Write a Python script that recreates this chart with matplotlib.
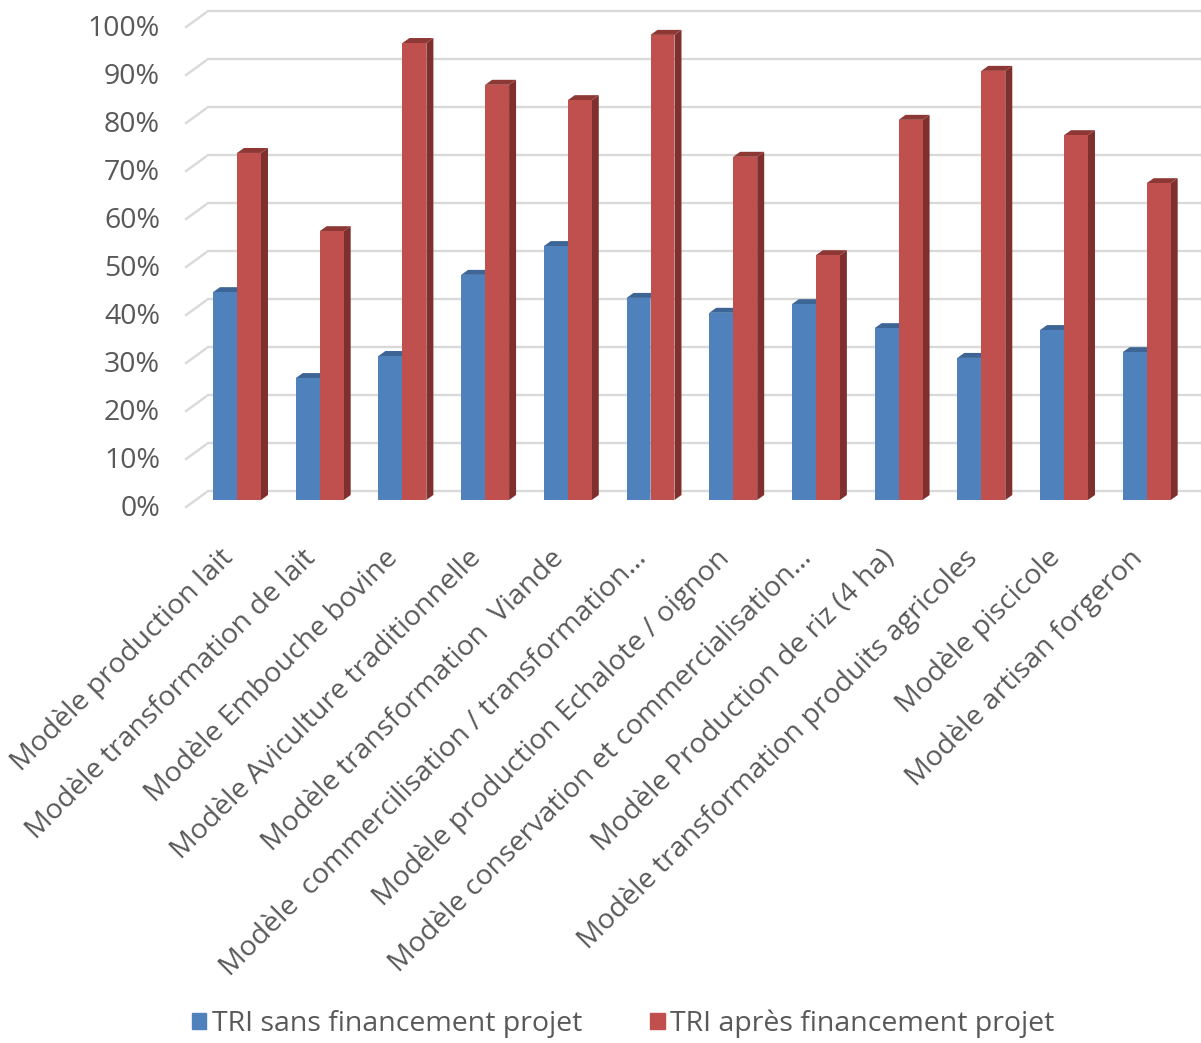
import matplotlib
matplotlib.use("Agg")
import matplotlib.pyplot as plt
from matplotlib.patches import Polygon, Patch

plt.rcParams['font.family'] = ['Open Sans', 'DejaVu Sans']

# --------- Données ---------

categories = [
    "Modèle production lait",
    "Modèle transformation de lait",
    "Modèle Embouche bovine",
    "Modèle Aviculture traditionnelle",
    "Modèle transformation  Viande",
    "Modèle  commercilisation / transformation…",
    "Modèle production Echalote / oignon",
    "Modèle conservation et commercialisation…",
    "Modèle Production de riz (4 ha)",
    "Modèle transformation produits agricoles",
    "Modèle piscicole",
    "Modèle artisan forgeron",
]
tri_sans = [43.3, 25.4, 30.0, 46.9, 52.9, 42.1, 39.0, 40.8, 35.8, 29.6, 35.4, 30.8]
tri_apres = [72.3, 56.0, 95.2, 86.5, 83.3, 96.9, 71.5, 51.0, 79.2, 89.4, 76.0, 66.0]
series_names = ["TRI sans financement projet", "TRI après financement projet"]
yticks = list(range(0, 101, 10))

# --------- Style ---------

BLUE, BLUE_SIDE, BLUE_TOP = "#4F81BD", "#385D8A", "#3D6696"
RED, RED_SIDE, RED_TOP = "#C0504D", "#7F302E", "#8E3836"
GRID = "#D9D9D9"
TXT = "#595959"
FS = 20.5
BAR_W = 0.29

W, H = 1201, 1043
fig = plt.figure(figsize=(W / 100, H / 100), dpi=100)
ax_l, ax_r, ax_b, ax_t = 195.65, 1188.05, 500, 20
ax = fig.add_axes([ax_l / W, 1 - ax_b / H, (ax_r - ax_l) / W, (ax_b - ax_t) / H])
n = len(categories)
ax.set_xlim(-0.5, n - 0.5)
ax.set_ylim(0, 100)
ax.axis("off")

# pixels par unité de données
px_x = (ax_r - ax_l) / n
px_y = (ax_b - ax_t) / 100.0


def off(dx, dy):
    return dx / px_x, dy / px_y


# murs : grille arrière + arête gauche en perspective
bdx, bdy = off(12.4, 9)
fdx, fdy = off(-9.6, -7)
for v in yticks:
    ax.plot([-0.5 + fdx, -0.5 + bdx, n - 0.5 + bdx + 0.2],
            [v + fdy, v + bdy, v + bdy],
            color=GRID, lw=1.7, clip_on=False, solid_joinstyle="miter", zorder=1)
    lx, ly = off(-26, -2)
    ax.text(-0.5 + fdx + lx, v + fdy + ly, f"{v}%", ha="right", va="center",
            fontsize=FS, color=TXT)


def draw_bar(x0, h, front, side, top):
    dx, dy = off(7, 5)
    x1 = x0 + BAR_W
    ax.add_patch(Polygon([(x1, 0), (x1 + dx, dy), (x1 + dx, h + dy), (x1, h)],
                         closed=True, facecolor=side, edgecolor="none", zorder=3))
    ax.add_patch(Polygon([(x0, h), (x0 + dx, h + dy), (x1 + dx, h + dy), (x1, h)],
                         closed=True, facecolor=top, edgecolor="none", zorder=3))
    ax.bar(x0, h, width=BAR_W, align="edge", color=front, zorder=3)


for i in range(n):
    draw_bar(i - BAR_W, tri_sans[i], BLUE, BLUE_SIDE, BLUE_TOP)
    draw_bar(i, tri_apres[i], RED, RED_SIDE, RED_TOP)

# étiquettes de catégories inclinées
for i, lab in enumerate(categories):
    lx, ly = off(-8, -54)
    ax.text(i + lx, ly, lab, rotation=45, rotation_mode="anchor",
            ha="right", va="center", fontsize=FS, color=TXT, clip_on=False)

handles = [Patch(color=BLUE), Patch(color=RED)]
fig.legend(handles, series_names, loc="center", bbox_to_anchor=(0.519, 1 - 1024 / H),
           ncol=2, frameon=False, handlelength=0.5, handleheight=0.5,
           handletextpad=0.2, columnspacing=2.4, fontsize=FS, labelcolor=TXT)

fig.savefig("out.png", dpi=100, facecolor="white")
